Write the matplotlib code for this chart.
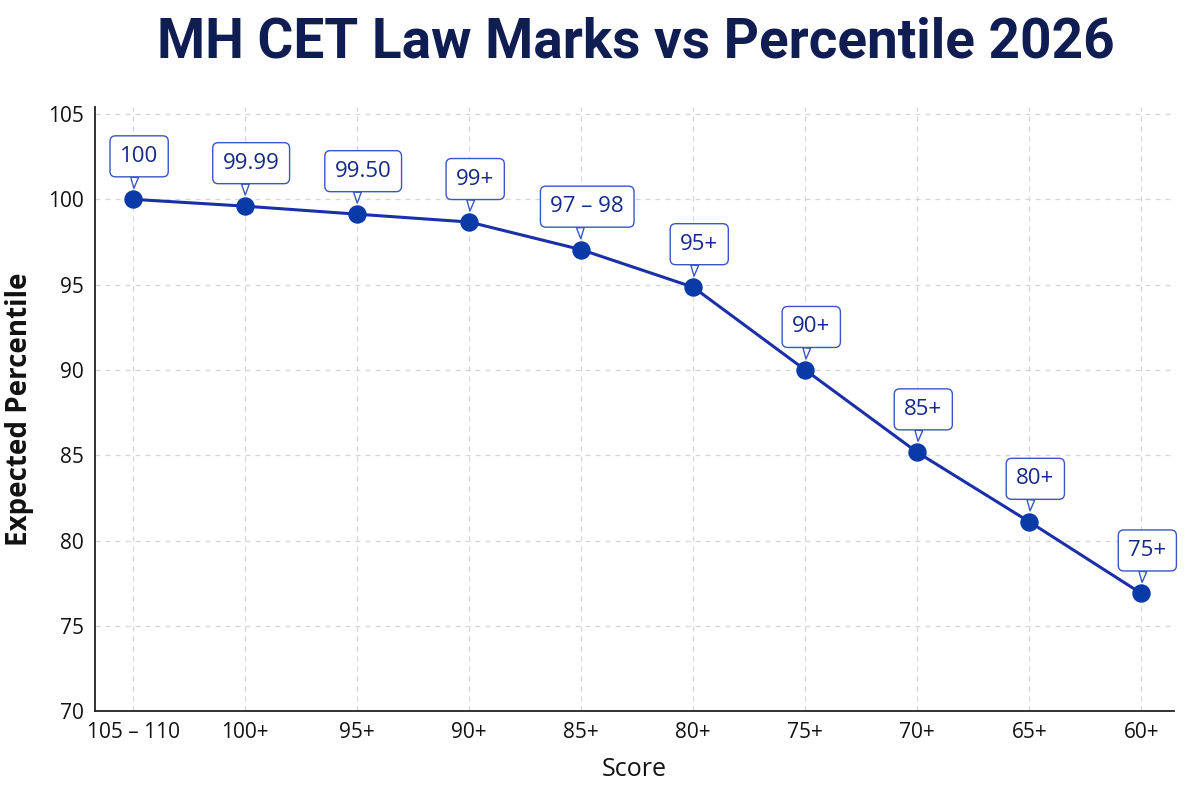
import matplotlib
matplotlib.use("Agg")
import matplotlib.pyplot as plt

# data
scores = ["105 – 110", "100+", "95+", "90+", "85+", "80+", "75+", "70+", "65+", "60+"]
percentile = [100.0, 99.6, 99.13, 98.67, 97.05, 94.85, 90.0, 85.17, 81.1, 76.9]
labels = ["100", "99.99", "99.50", "99+", "97 – 98", "95+", "90+", "85+", "80+", "75+"]

plt.rcParams['font.family'] = ['Open Sans', 'DejaVu Sans']

fig = plt.figure(figsize=(12, 8), dpi=100)
ax = fig.add_axes([0.0792, 0.111, 0.899, 0.755])

x = list(range(len(scores)))
ax.plot(x, percentile, color='#1a2fa8', lw=2.2, zorder=3)
ax.scatter(x, percentile, s=150, color='#0a3aa8', zorder=4)

for xi, yi, lab in zip(x, percentile, labels):
    ax.annotate(lab, xy=(xi, yi), xytext=(6, 43), textcoords='offset pixels',
                ha='center', va='center', fontsize=16, color='#142a86', fontweight='medium',
                bbox=dict(boxstyle='round,pad=0.45,rounding_size=0.25', fc='white', ec='#3a55c4', lw=1.0),
                arrowprops=dict(arrowstyle='wedge,tail_width=0.35,shrink_factor=0.5',
                                fc='white', ec='#3a55c4', lw=1.0, relpos=(0.4, 0.0),
                                shrinkA=0, shrinkB=8),
                zorder=5)

ax.set_xlim(-0.34, 9.29)
ax.set_ylim(70, 105.4)
ax.set_yticks([70, 75, 80, 85, 90, 95, 100, 105])
ax.set_xticks(x)
ax.set_xticklabels(scores)
ax.tick_params(axis='both', labelsize=15, length=0, pad=8, labelcolor='#111111')

ax.grid(True, ls=(0, (4, 4)), color='#d6d6d6', lw=0.9)
ax.set_axisbelow(True)
for s in ['top', 'right']:
    ax.spines[s].set_visible(False)
for s in ['left', 'bottom']:
    ax.spines[s].set_color('#222222')
    ax.spines[s].set_linewidth(1.3)

ax.set_xlabel("Score", fontsize=18, fontweight='medium', color='#111111', labelpad=10)
ax.set_ylabel("Expected Percentile", fontsize=20, fontweight='bold', color='#111111', labelpad=10)

fig.text(0.53, 0.9475, "MH CET Law Marks vs Percentile 2026", ha='center', va='center',
         fontsize=39.5, fontweight='bold', color='#0f1d52', family=['Roboto', 'DejaVu Sans'])

fig.savefig("out.png", dpi=100, facecolor='white')
